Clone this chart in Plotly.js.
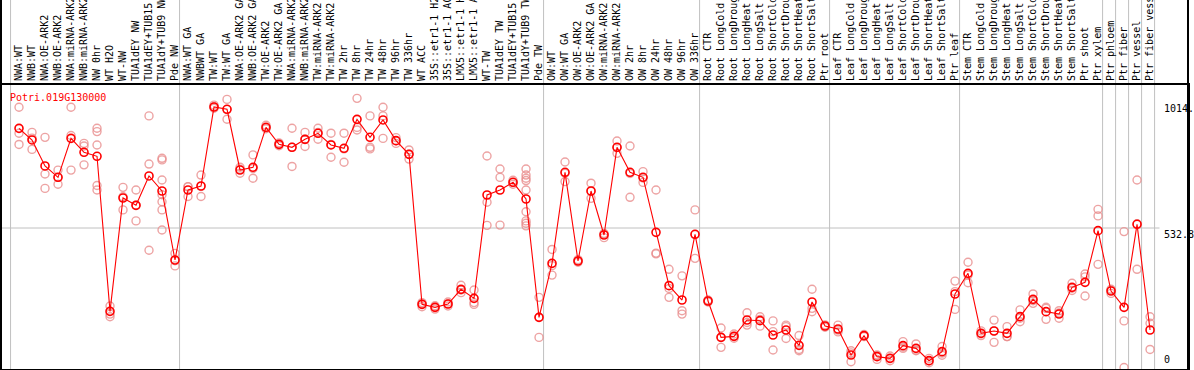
<!DOCTYPE html>
<html>
<head>
<meta charset="utf-8">
<script src="https://cdn.plot.ly/plotly-3.0.1.min.js"></script>
<style>
html,body{margin:0;padding:0;background:#fff;}
#chart{width:1194px;height:370px;}
</style>
</head>
<body>
<div id="chart"></div>
<script>
const geneId = "Potri.019G130000";

const categories = [
"NWA:WT","NWB:WT","NWA:OE-ARK2","NWB:OE-ARK2","NWA:miRNA-ARK2","NWB:miRNA-ARK2","NW 0hr","WT H2O","WT-NW","TUA1dEY NW",
"TUA1dEY+TUB15 NW","TUA1dY+TUB9 NW","Pde NW","NWA:WT GA","NWBWT GA","TW:WT","TW:WT GA","NWA:OE-ARK2 GA","NWB:OE-ARK2 GA","TW:OE-ARK2",
"TW:OE-ARK2 GA","NWA:miRNA-ARK2 GA","NWB:miRNA-ARK2 GA","TW:miRNA-ARK2","TW:miRNA-ARK2 GA","TW 2hr","TW 8hr","TW 24hr","TW 48hr","TW 96hr",
"TW 336hr","WT ACC","35S::etr1-1 H2O","35S::etr1-1 ACC","LMX5::etr1-1 H2O","LMX5::etr1-1 ACC","WT-TW","TUA1dEY TW","TUA1dEY+TUB15 TW","TUA1dY+TUB9 TW",
"Pde TW","OW:WT","OW:WT GA","OW:OE-ARK2","OW:OE-ARK2 GA","OW:miRNA-ARK2","OW:miRNA-ARK2 GA","OW 2hr","OW 8hr","OW 24hr",
"OW 48hr","OW 96hr","OW 336hr","Root CTR","Root LongCold","Root LongDrought","Root LongHeat","Root LongSalt","Root ShortCold","Root ShortDrought",
"Root ShortHeat","Root ShortSalt","Ptr root","Leaf CTR","Leaf LongCold","Leaf LongDrought","Leaf LongHeat","Leaf LongSalt","Leaf ShortCold","Leaf ShortDrought",
"Leaf ShortHeat","Leaf ShortSalt","Ptr leaf","Stem CTR","Stem LongCold","Stem LongDrought","Stem LongHeat","Stem LongSalt","Stem ShortCold","Stem ShortDrought",
"Stem ShortHeat","Stem ShortSalt","Ptr shoot","Ptr xylem","Ptr phloem","Ptr fiber","Ptr vessel","Ptr fiber vessel"
];

const meanValues = [
913.5, 869, 769.7, 726.4, 875.3, 821.9, 806.6, 214.5, 647.4, 619.4,
731.5, 674.2, 410.6, 678, 693.3, 995, 986.1, 754.4, 764.6, 917.4,
852.4, 841, 871.5, 894.5, 849.9, 837.2, 947.9, 879.2, 945.4, 866.4,
814.2, 241.3, 229.8, 242.6, 298.6, 264.2, 658.9, 678, 707.3, 643.6,
191.6, 397.9, 745.5, 406.8, 674.2, 506.1, 841, 745.5, 726.4, 516.3,
312.6, 257.8, 508.7, 254, 115.2, 119, 181.4, 178.9, 124.1, 143.2,
84.7, 250.2, 158.5, 147.1, 47.7, 121.6, 41.4, 35, 83.4, 73.2,
26.1, 60.5, 280.8, 359.7, 130.5, 139.4, 130.5, 194.2, 260.4, 213.3,
204.4, 306.2, 325.3, 522.7, 292.2, 229.8, 546.9, 143.2
];

const replicateValues = [
[994,895,852],[898,876,833],[879,739,684],[754,726,700],[994,886,754],
[856,846,774],[914,901,850,695,678],[235,204,194],[688,652,602],[678,620,560],
[961,777,448],[799,793,716,660,633,602,525],[436,408,388],[691,690,653],[735,692,653],
[1002,996,990],[1024,986,948],[765,757,742],[812,760,723],[925,915,912],
[858,852,847],[914,841,768],[898,872,844],[914,898,872],[895,852,803],
[895,835,784],[1028,917,907],[961,841,835],[994,961,875],[878,866,856],
[831,815,796],[248,243,232],[236,230,223],[250,243,235],[314,296,286],
[296,248,241],[808,631,543],[758,726,544],[715,707,700],[758,735,723,714,678,595,560,551,541],
[268,192,115],[451,389,353],[785,742,710],[412,407,402],[704,673,646],
[512,510,496],[865,840,818],[846,741,650],[748,724,707],[678,437,434],
[375,302,268],[350,217,204],[602,508,417],[258,254,250],[151,115,77],
[128,120,112],[209,172,162],[194,184,158],[178,137,67],[162,156,111],
[122,69,64],[299,226,213],[163,158,154],[162,143,136],[64,56,22],
[126,121,118],[48,45,31],[44,35,26],[99,78,73],[90,66,64],
[35,25,18],[80,55,47],[330,290,222],[402,353,324],[140,130,122],
[181,140,96],[156,118,118],[220,188,175],[281,255,245],[230,226,184],
[217,208,188],[322,303,294],[357,346,273],[604,579,394],[299,295,283],
[519,178,0],[716,549,375],[194,169,69]
];

// index of the last category in each group (-1 = before the first)
const groupEnds = [-1, 12, 40, 52, 62, 72, 83, 84, 85, 86, 87];

const yTickValues = [1014, 532.8, 0];
const yTickLabels = ["1014.", "532.8", "0"];
const gridValue = 532.8;

const idx = categories.map((c, i) => i);
const repX = [], repY = [];
replicateValues.forEach((arr, i) => arr.forEach(v => { repX.push(i); repY.push(v); }));

const mono = "DejaVu Sans Mono, monospace";

const traces = [
  {
    x: repX, y: repY, type: "scatter", mode: "markers",
    marker: {symbol: "circle-open", size: 8, color: "rgba(232,140,140,0.8)", line: {width: 1.4}},
    hoverinfo: "skip", showlegend: false
  },
  {
    x: idx, y: meanValues, type: "scatter", mode: "lines+markers",
    line: {color: "#ff0000", width: 1.1},
    marker: {symbol: "circle-open", size: 8, color: "#ff0000", line: {width: 1.6}},
    hoverinfo: "skip", showlegend: false
  }
];

const shapes = [];
groupEnds.forEach(g => {
  shapes.push({type: "line", xref: "x", yref: "paper", x0: g + 0.35, x1: g + 0.35, y0: -0.01, y1: 1.31,
    line: {color: "#c0c0c0", width: 1}, layer: "below"});
});
shapes.push({type: "line", xref: "paper", yref: "y", x0: 0, x1: 0.976, y0: gridValue, y1: gridValue,
  line: {color: "#c0c0c0", width: 1}, layer: "below"});
// outer frame continuing through the label band
shapes.push({type: "line", xref: "paper", yref: "paper", x0: 0, x1: 0, y0: 0, y1: 1.31, line: {color: "#000", width: 2}});
shapes.push({type: "line", xref: "paper", yref: "paper", x0: 1, x1: 1, y0: 0, y1: 1.31, line: {color: "#000", width: 2}});

const annotations = [
  {xref: "paper", yref: "paper", x: 0.0055, y: 1, xanchor: "left", yanchor: "top", yshift: -5,
   text: geneId, showarrow: false, font: {family: mono, size: 10, color: "#ff0000"}}
];
yTickValues.forEach((v, k) => {
  annotations.push({xref: "paper", yref: "y", x: 0.9785, y: v, xanchor: "left",
    yanchor: v === 0 ? "bottom" : "top", yshift: v === 0 ? 1 : 1,
    text: yTickLabels[k], showarrow: false, font: {family: mono, size: 10, color: "#000"}});
});

const layout = {
  width: 1194, height: 370,
  margin: {l: 1, r: 6, t: 85, b: 1, pad: 0},
  paper_bgcolor: "#fff", plot_bgcolor: "#fff",
  showlegend: false,
  xaxis: {
    range: [-1.385, 89.92], side: "top",
    tickmode: "array", tickvals: idx, ticktext: categories,
    tickangle: -90, ticks: "", ticklabeloverflow: "allow",
    tickfont: {family: mono, size: 10, color: "#000"},
    showgrid: false, zeroline: false,
    showline: true, mirror: true, linecolor: "#000", linewidth: 2,
    fixedrange: true, automargin: false
  },
  yaxis: {
    range: [-5.7, 1079],
    showticklabels: false, ticks: "", showgrid: false, zeroline: false,
    showline: true, mirror: true, linecolor: "#000", linewidth: 2,
    fixedrange: true, automargin: false
  },
  shapes: shapes,
  annotations: annotations
};

Plotly.newPlot("chart", traces, layout, {staticPlot: true, displayModeBar: false});
</script>
</body>
</html>
